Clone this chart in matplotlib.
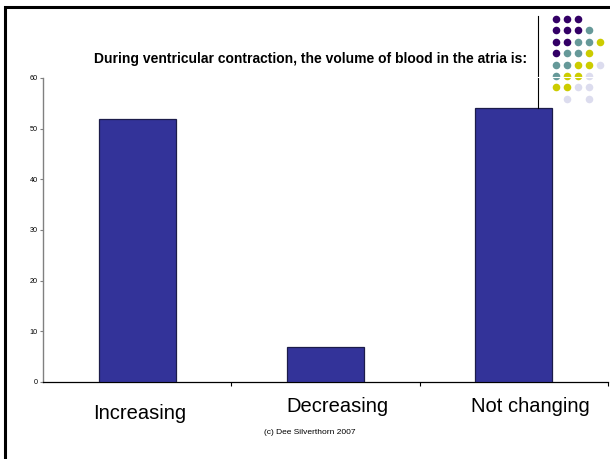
import matplotlib.pyplot as plt
from matplotlib.transforms import ScaledTranslation

plt.rcParams['font.family'] = ['Liberation Sans', 'DejaVu Sans']

answers = ["Increasing", "Decreasing", "Not changing"]
votes = [52, 7, 54]
title = "During ventricular contraction, the volume of blood in the atria is:"
credit = "(c) Dee Silverthorn 2007"

# slide template dot pattern, one string per row (P purple, T teal, Y yellow, L lavender, . empty)
dot_rows = ["PPP", "PPPT", "PPTTY", "PTTY", "TTYYL", "TYYL", "YYLL", ".L.L"]
dot_colors = {"P": "#330066", "T": "#669999", "Y": "#cccc00", "L": "#dcdcee"}

W, H = 610, 459
fig = plt.figure(figsize=(W / 100, H / 100), dpi=100)
fig.patch.set_facecolor("white")

ax = fig.add_axes([43 / W, 1 - 382 / H, 565 / W, 304 / H])
x = range(len(answers))
ax.bar(x, votes, width=0.41, color="#333399", edgecolor="#1c1c4a", linewidth=0.9, zorder=3)
ax.set_xlim(-0.5, 2.5)
ax.set_ylim(0, 60)
ax.set_yticks(range(0, 61, 10))
for s in ["top", "right"]:
    ax.spines[s].set_visible(False)
ax.spines["left"].set_color("#808080")
ax.spines["left"].set_linewidth(1.0)
ax.spines["bottom"].set_color("black")
ax.spines["bottom"].set_linewidth(0.9)
ax.tick_params(axis="y", labelsize=5.2, length=2.2, width=0.8, color="#808080", pad=1.5)
ax.set_xticks([0.5, 1.5, 2.5], minor=True)
ax.tick_params(axis="x", which="minor", length=3, width=0.8, color="black")
ax.set_xticks(list(x), answers)
ax.tick_params(axis="x", which="major", length=0, labelsize=14.5, pad=11)

# hand-placed category labels, shifted as on the slide
shifts = [(3, -7), (12, 0), (17, 0)]
for lab, (dx, dy) in zip(ax.get_xticklabels(), shifts):
    lab.set_transform(lab.get_transform() + ScaledTranslation(dx / 100, dy / 100, fig.dpi_scale_trans))

fig.text(311 / W, 1 - 63 / H, title, ha="center", va="baseline", fontsize=10, weight="bold")
fig.text(310 / W, 1 - 432 / H, credit, ha="center", va="center", fontsize=6)

# decoration layer in pixel coordinates
deco = fig.add_axes([0, 0, 1, 1], zorder=5)
deco.set_xlim(0, W)
deco.set_ylim(H, 0)
deco.axis("off")
deco.patch.set_visible(False)
deco.plot([5, 5, W + 10], [H + 10, 6.5, 6.5], color="black", linewidth=2.2, solid_joinstyle="miter")
deco.plot([538.3, 538.3], [16, 108], color="black", linewidth=0.8)
for r, row in enumerate(dot_rows):
    for c, ch in enumerate(row):
        if ch == ".":
            continue
        deco.scatter(556 + c * 11.1, 19 + r * 11.4, s=30, color=dot_colors[ch], linewidths=0)
deco.plot([538.3, W], [77, 77], color="white", linewidth=0.8)

fig.savefig("out.png", dpi=100)
